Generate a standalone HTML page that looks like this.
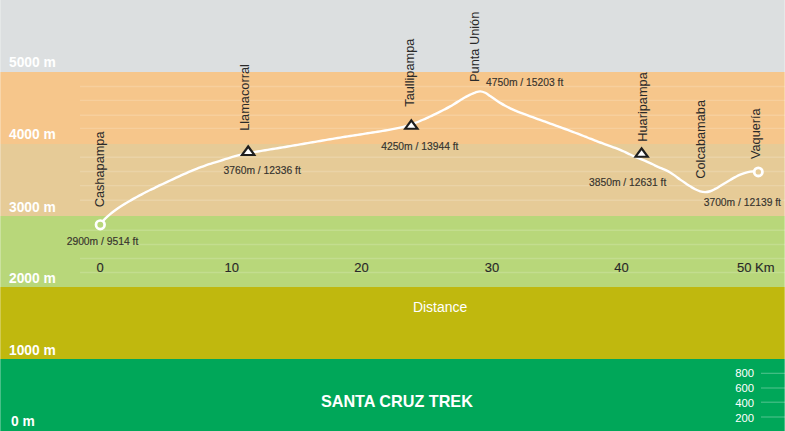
<!DOCTYPE html>
<html><head><meta charset="utf-8">
<style>
html,body{margin:0;padding:0;width:785px;height:431px;overflow:hidden;background:#dcdfe0;}
svg{display:block;}
text{font-family:"Liberation Sans",sans-serif;}
.bl{font-weight:bold;font-size:13.8px;fill:#fff;}
.ax{font-size:13px;fill:#282828;stroke:#282828;stroke-width:0.12;}
.el{font-size:10.3px;fill:#36332d;stroke:#36332d;stroke-width:0.15;}
.vl{font-size:12.75px;fill:#2a2a2a;}
.g line{stroke:#fff;stroke-opacity:0.16;stroke-width:1.4;}
</style></head>
<body>
<svg width="785" height="431" viewBox="0 0 785 431">
<rect x="0" y="0" width="785" height="72" fill="#dcdfe0"/>
<rect x="0" y="72" width="785" height="72" fill="#f6c68b"/>
<rect x="0" y="144" width="785" height="72" fill="#e6cb97"/>
<rect x="0" y="216" width="785" height="71" fill="#b8d77a"/>
<rect x="0" y="287" width="785" height="72" fill="#c0b80e"/>
<rect x="0" y="359" width="785" height="72" fill="#00a759"/>
<rect x="0" y="0" width="1" height="431" fill="#fff" fill-opacity="0.28"/>
<rect x="784" y="0" width="1" height="431" fill="#fff" fill-opacity="0.28"/>
<g class="g">
<line x1="80" x2="785" y1="86.5" y2="86.5"/>
<line x1="80" x2="785" y1="100.4" y2="100.4"/>
<line x1="80" x2="785" y1="115.2" y2="115.2"/>
<line x1="80" x2="785" y1="128.4" y2="128.4"/>
<line x1="80" x2="785" y1="157.3" y2="157.3"/>
<line x1="80" x2="785" y1="171.5" y2="171.5"/>
<line x1="80" x2="785" y1="185.6" y2="185.6"/>
<line x1="80" x2="785" y1="200.2" y2="200.2"/>
<line x1="80" x2="785" y1="230.3" y2="230.3"/>
<line x1="80" x2="785" y1="244.5" y2="244.5"/>
<line x1="80" x2="785" y1="258.5" y2="258.5"/>
<line x1="80" x2="785" y1="272.5" y2="272.5"/>
<line x1="761" x2="785" y1="373.3" y2="373.3" style="stroke-opacity:0.3;stroke-width:1.1"/>
<line x1="761" x2="785" y1="388" y2="388" style="stroke-opacity:0.3;stroke-width:1.1"/>
<line x1="761" x2="785" y1="402.2" y2="402.2" style="stroke-opacity:0.3;stroke-width:1.1"/>
<line x1="761" x2="785" y1="417" y2="417" style="stroke-opacity:0.3;stroke-width:1.1"/>
</g>
<text class="bl" x="9" y="66.8">5000 m</text>
<text class="bl" x="9" y="139.2">4000 m</text>
<text class="bl" x="9" y="211.5">3000 m</text>
<text class="bl" x="9" y="283">2000 m</text>
<text class="bl" x="9" y="354.5">1000 m</text>
<text class="bl" x="11" y="426">0 m</text>

<text class="ax" x="100.2" y="272" text-anchor="middle">0</text>
<text class="ax" x="231.7" y="272" text-anchor="middle">10</text>
<text class="ax" x="361.5" y="272" text-anchor="middle">20</text>
<text class="ax" x="491.9" y="272" text-anchor="middle">30</text>
<text class="ax" x="621.5" y="272" text-anchor="middle">40</text>
<text class="ax" x="737" y="272">50 Km</text>

<text x="412.9" y="312.2" style="font-size:14px;fill:#fff">Distance</text>
<text x="320.9" y="407.2" style="font-size:16.2px;font-weight:bold;fill:#fff">SANTA CRUZ TREK</text>

<g style="font-size:11.3px;fill:#fff">
<text x="735.3" y="377.3">800</text>
<text x="735.3" y="392.1">600</text>
<text x="735.3" y="406.9">400</text>
<text x="735.3" y="421.8">200</text>
</g>

<path d="M100.2,224.40 C101.0,223.45 103.5,220.42 105.2,218.71 C106.9,217.01 108.5,215.58 110.2,214.18 C111.9,212.77 113.5,211.50 115.2,210.26 C116.9,209.03 118.5,207.89 120.2,206.78 C121.9,205.67 123.5,204.64 125.2,203.62 C126.9,202.60 128.5,201.63 130.2,200.67 C131.9,199.71 133.5,198.78 135.2,197.86 C136.9,196.94 138.5,196.04 140.2,195.16 C141.9,194.27 143.5,193.41 145.2,192.55 C146.9,191.70 148.5,190.86 150.2,190.03 C151.9,189.20 153.5,188.39 155.2,187.58 C156.9,186.77 158.5,185.97 160.2,185.18 C161.9,184.38 163.5,183.60 165.2,182.81 C166.9,182.03 168.5,181.25 170.2,180.47 C171.9,179.69 173.5,178.91 175.2,178.13 C176.9,177.36 178.5,176.59 180.2,175.83 C181.9,175.07 183.5,174.32 185.2,173.58 C186.9,172.84 188.5,172.11 190.2,171.40 C191.9,170.70 193.5,170.00 195.2,169.33 C196.9,168.66 198.5,168.00 200.2,167.38 C201.9,166.75 203.5,166.15 205.2,165.57 C206.9,165.00 208.5,164.46 210.2,163.92 C211.9,163.38 213.5,162.87 215.2,162.36 C216.9,161.84 218.5,161.33 220.2,160.81 C221.9,160.28 223.5,159.74 225.2,159.21 C226.9,158.68 228.5,158.13 230.2,157.63 C231.9,157.12 233.5,156.63 235.2,156.17 C236.9,155.72 238.5,155.30 240.2,154.90 C241.9,154.50 243.5,154.14 245.2,153.78 C246.9,153.43 248.5,153.11 250.2,152.79 C251.9,152.48 253.5,152.19 255.2,151.90 C256.9,151.61 258.5,151.33 260.2,151.06 C261.9,150.78 263.5,150.51 265.2,150.24 C266.9,149.97 268.5,149.70 270.2,149.43 C271.9,149.16 273.5,148.89 275.2,148.61 C276.9,148.34 278.5,148.06 280.2,147.78 C281.9,147.51 283.5,147.23 285.2,146.95 C286.9,146.67 288.5,146.39 290.2,146.11 C291.9,145.82 293.5,145.54 295.2,145.26 C296.9,144.97 298.5,144.68 300.2,144.40 C301.9,144.11 303.5,143.82 305.2,143.54 C306.9,143.25 308.5,142.96 310.2,142.67 C311.9,142.39 313.5,142.10 315.2,141.81 C316.9,141.53 318.5,141.24 320.2,140.95 C321.9,140.67 323.5,140.38 325.2,140.10 C326.9,139.82 328.5,139.53 330.2,139.25 C331.9,138.97 333.5,138.69 335.2,138.42 C336.9,138.14 338.5,137.86 340.2,137.59 C341.9,137.32 343.5,137.05 345.2,136.78 C346.9,136.51 348.5,136.25 350.2,135.99 C351.9,135.72 353.5,135.47 355.2,135.21 C356.9,134.95 358.5,134.70 360.2,134.44 C361.9,134.19 363.5,133.94 365.2,133.68 C366.9,133.43 368.5,133.17 370.2,132.91 C371.9,132.66 373.5,132.40 375.2,132.13 C376.9,131.87 378.5,131.60 380.2,131.33 C381.9,131.06 383.5,130.78 385.2,130.49 C386.9,130.21 388.5,129.92 390.2,129.62 C391.9,129.32 393.5,129.02 395.2,128.69 C396.9,128.36 398.5,128.02 400.2,127.63 C401.9,127.23 403.5,126.81 405.2,126.34 C406.9,125.86 408.5,125.34 410.2,124.77 C411.9,124.21 413.5,123.60 415.2,122.97 C416.9,122.33 418.5,121.66 420.2,120.96 C421.9,120.26 423.5,119.53 425.2,118.79 C426.9,118.04 428.5,117.27 430.2,116.49 C431.9,115.71 433.5,114.92 435.2,114.11 C436.9,113.31 438.5,112.51 440.2,111.68 C441.9,110.85 443.5,110.01 445.2,109.13 C446.9,108.24 448.5,107.33 450.2,106.36 C451.9,105.40 453.5,104.37 455.2,103.35 C456.9,102.33 458.5,101.26 460.2,100.25 C461.9,99.24 463.5,98.21 465.2,97.28 C466.9,96.34 468.5,95.43 470.2,94.64 C471.9,93.85 473.5,93.09 475.2,92.54 C476.9,92.00 478.5,91.32 480.2,91.35 C481.9,91.38 483.5,91.96 485.2,92.74 C486.9,93.52 488.5,94.89 490.2,96.03 C491.9,97.16 493.5,98.42 495.2,99.55 C496.9,100.69 498.5,101.83 500.2,102.86 C501.9,103.89 503.5,104.84 505.2,105.75 C506.9,106.65 508.5,107.49 510.2,108.29 C511.9,109.08 513.5,109.82 515.2,110.54 C516.9,111.25 518.5,111.92 520.2,112.58 C521.9,113.24 523.5,113.86 525.2,114.48 C526.9,115.10 528.5,115.70 530.2,116.31 C531.9,116.91 533.5,117.52 535.2,118.12 C536.9,118.72 538.5,119.32 540.2,119.92 C541.9,120.52 543.5,121.12 545.2,121.72 C546.9,122.32 548.5,122.92 550.2,123.53 C551.9,124.13 553.5,124.73 555.2,125.34 C556.9,125.94 558.5,126.55 560.2,127.16 C561.9,127.77 563.5,128.38 565.2,129.00 C566.9,129.62 568.5,130.24 570.2,130.86 C571.9,131.49 573.5,132.12 575.2,132.75 C576.9,133.39 578.5,134.03 580.2,134.68 C581.9,135.32 583.5,135.98 585.2,136.63 C586.9,137.29 588.5,137.95 590.2,138.60 C591.9,139.26 593.5,139.92 595.2,140.57 C596.9,141.22 598.5,141.87 600.2,142.50 C601.9,143.13 603.5,143.76 605.2,144.37 C606.9,144.98 608.5,145.57 610.2,146.16 C611.9,146.75 613.5,147.30 615.2,147.92 C616.9,148.53 618.5,149.14 620.2,149.84 C621.9,150.54 623.5,151.32 625.2,152.10 C626.9,152.88 628.5,153.73 630.2,154.51 C631.9,155.29 633.5,156.07 635.2,156.79 C636.9,157.51 638.5,158.15 640.2,158.83 C641.9,159.50 643.5,160.14 645.2,160.85 C646.9,161.55 648.5,162.29 650.2,163.08 C651.9,163.88 653.5,164.81 655.2,165.60 C656.9,166.38 658.5,167.10 660.2,167.81 C661.9,168.52 663.5,169.08 665.2,169.84 C666.9,170.61 668.5,171.41 670.2,172.42 C671.9,173.42 673.5,174.68 675.2,175.88 C676.9,177.09 678.5,178.44 680.2,179.64 C681.9,180.83 683.5,181.93 685.2,183.05 C686.9,184.17 688.5,185.30 690.2,186.34 C691.9,187.38 693.5,188.46 695.2,189.29 C696.9,190.13 698.5,190.88 700.2,191.35 C701.9,191.82 703.5,192.11 705.2,192.09 C706.9,192.07 708.5,191.76 710.2,191.23 C711.9,190.70 713.5,189.78 715.2,188.92 C716.9,188.06 718.5,187.04 720.2,186.05 C721.9,185.06 723.5,184.01 725.2,182.99 C726.9,181.98 728.5,180.94 730.2,179.97 C731.9,179.00 733.5,178.03 735.2,177.15 C736.9,176.28 738.5,175.43 740.2,174.71 C741.9,173.98 743.5,173.32 745.2,172.80 C746.9,172.28 748.5,171.84 750.2,171.58 C751.9,171.32 753.9,171.24 755.2,171.23 C756.5,171.22 757.7,171.46 758.2,171.50" fill="none" stroke="#fff" stroke-width="2.4" stroke-linecap="round"/>

<circle cx="100.3" cy="224.8" r="4.3" fill="#b8d77a" stroke="#fff" stroke-width="2.7"/>
<circle cx="758.3" cy="171.9" r="4.1" fill="#e6cb97" stroke="#fff" stroke-width="2.8"/>

<g>
<polygon points="248.2,144.6 256.4,155.9 239.9,155.9" fill="#1e1e1e"/><polygon points="248.2,148.4 252.3,154.0 244.1,154.0" fill="#fff"/>
<polygon points="411.3,118.4 419.6,129.7 403.1,129.7" fill="#1e1e1e"/><polygon points="411.3,122.2 415.4,127.8 407.2,127.8" fill="#fff"/>
<polygon points="641.6,146.4 649.9,157.7 633.4,157.7" fill="#1e1e1e"/><polygon points="641.6,150.2 645.7,155.8 637.5,155.8" fill="#fff"/>
</g>

<g class="el">
<text x="66.7" y="245.1">2900m / 9514 ft</text>
<text x="223.5" y="174.3">3760m / 12336 ft</text>
<text x="381.2" y="149.8">4250m / 13944 ft</text>
<text x="486" y="86.3">4750m / 15203 ft</text>
<text x="589" y="186.2">3850m / 12631 ft</text>
<text x="703.7" y="205.6">3700m / 12139 ft</text>
</g>

<g class="vl">
<text transform="translate(103.5,207.3) rotate(-90)">Cashapampa</text>
<text transform="translate(248.8,130.8) rotate(-90)">Llamacorral</text>
<text transform="translate(414.0,106.7) rotate(-90)">Taullipampa</text>
<text transform="translate(479.2,81.9) rotate(-90)">Punta Unión</text>
<text transform="translate(647.1,141.7) rotate(-90)">Huaripampa</text>
<text transform="translate(704.6,178.7) rotate(-90)">Colcabamaba</text>
<text transform="translate(760.1,159.1) rotate(-90)">Vaquería</text>
</g>
</svg>
</body></html>
